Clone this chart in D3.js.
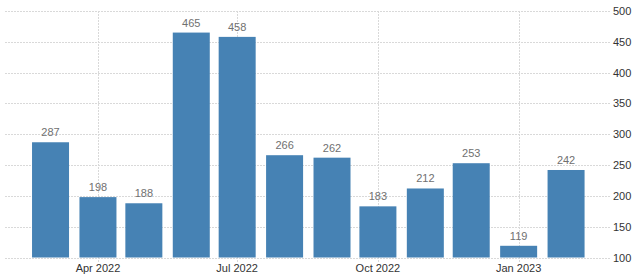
<!DOCTYPE html>
<html>
<head>
<meta charset="utf-8">
<script src="https://cdn.jsdelivr.net/npm/d3@7"></script>
<style>
	body{margin:0;background:#fff;}
	svg{display:block;font-family:"Liberation Sans",Arial,sans-serif;}
</style>
</head>
<body>
<svg id="chart" width="640" height="279"></svg>
<script>
// monthly values, Mar 2022 .. Feb 2023
var months = ["2022-03","2022-04","2022-05","2022-06","2022-07","2022-08","2022-09","2022-10","2022-11","2022-12","2023-01","2023-02"];
var values = [287,198,188,465,458,266,262,183,212,253,119,242];
var yTicks = [100,150,200,250,300,350,400,450,500];
var xTicks = ["2022-04","2022-07","2022-10","2023-01"];

var parse = d3.timeParse("%Y-%m");
var svg = d3.select("#chart");

var x = d3.scaleTime()
	.domain([parse("2022-02"), parse("2023-03")])
	.range([7.7, 608.9]);
var y = d3.scaleLinear().domain([100,500]).range([257.5,11]);

var left = 5, right = 610;

// horizontal grid
svg.append("g").selectAll("line").data(yTicks).join("line")
	.attr("x1",left).attr("x2",right)
	.attr("y1",function(d){return Math.round(y(d))+0.5;})
	.attr("y2",function(d){return Math.round(y(d))+0.5;})
	.attr("stroke","#d9d9d9").attr("stroke-dasharray","2,1");

// vertical grid
svg.append("g").selectAll("line").data(xTicks).join("line")
	.attr("x1",function(d){return Math.round(x(parse(d)))+0.5;})
	.attr("x2",function(d){return Math.round(x(parse(d)))+0.5;})
	.attr("y1",y(500)).attr("y2",262)
	.attr("stroke","#d9d9d9").attr("stroke-dasharray","2,1");

// bars
var barW = 37;
svg.append("g").selectAll("rect").data(values).join("rect")
	.attr("x",function(d,i){return x(parse(months[i]))-barW/2;})
	.attr("y",function(d){return y(d);})
	.attr("width",barW)
	.attr("height",function(d){return y(100)-y(d);})
	.attr("fill","#4682b4");

// value labels
svg.append("g").selectAll("text").data(values).join("text")
	.attr("x",function(d,i){return x(parse(months[i]));})
	.attr("y",function(d){return y(d)-6;})
	.attr("text-anchor","middle")
	.attr("font-size",11)
	.attr("fill","#707070")
	.text(function(d){return d;});

// y axis labels on the right
svg.append("g").selectAll("text").data(yTicks).join("text")
	.attr("x",613)
	.attr("y",function(d){return y(d)+4;})
	.attr("font-size",11)
	.attr("fill","#333")
	.text(function(d){return d;});

// x axis labels
var fmt = d3.timeFormat("%b %Y");
svg.append("g").selectAll("text").data(xTicks).join("text")
	.attr("x",function(d){return x(parse(d));})
	.attr("y",272)
	.attr("text-anchor","middle")
	.attr("font-size",11)
	.attr("fill","#333")
	.text(function(d){return fmt(parse(d));});
</script>
</body>
</html>
